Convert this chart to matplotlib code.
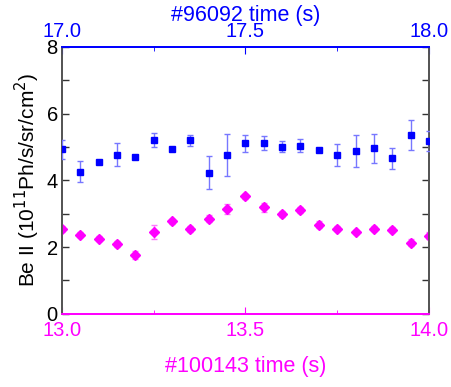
import matplotlib
matplotlib.use('Agg')
from matplotlib import pyplot as plt
from matplotlib.ticker import MultipleLocator

plt.rcParams['font.family'] = ['Liberation Sans', 'DejaVu Sans']

# shot #100143 (bottom axis)
t_100143 = [13.0, 13.05, 13.1, 13.15, 13.2, 13.25, 13.3, 13.35, 13.4, 13.45, 13.5,
            13.55, 13.6, 13.65, 13.7, 13.75, 13.8, 13.85, 13.9, 13.95, 14.0]
be_100143 = [2.54, 2.37, 2.25, 2.09, 1.76, 2.46, 2.77, 2.54, 2.85, 3.13, 3.52,
             3.19, 2.99, 3.11, 2.67, 2.55, 2.45, 2.55, 2.52, 2.13, 2.34]
err_100143 = [0.08, 0.08, 0.07, 0.1, 0.11, 0.21, 0.08, 0.08, 0.1, 0.15, 0.08,
              0.14, 0.08, 0.1, 0.1, 0.07, 0.07, 0.07, 0.08, 0.1, 0.1]

# shot #96092 (top axis)
t_96092 = [17.0, 17.05, 17.1, 17.15, 17.2, 17.25, 17.3, 17.35, 17.4, 17.45, 17.5,
           17.55, 17.6, 17.65, 17.7, 17.75, 17.8, 17.85, 17.9, 17.95, 18.0]
be_96092 = [4.93, 4.26, 4.54, 4.77, 4.70, 5.21, 4.95, 5.20, 4.23, 4.76, 5.11,
            5.12, 5.01, 5.04, 4.92, 4.75, 4.87, 4.96, 4.66, 5.36, 5.19]
err_96092 = [0.29, 0.31, 0.05, 0.35, 0.05, 0.21, 0.05, 0.16, 0.5, 0.62, 0.26,
             0.21, 0.16, 0.19, 0.05, 0.33, 0.48, 0.44, 0.32, 0.45, 0.3]

pink = '#ff00ff'
blue = '#0000ff'
gray = '#555555'

fig = plt.figure(figsize=(4.52, 3.87), dpi=100)
ax = fig.add_axes([0.137, 0.189, 0.812, 0.690])
ax2 = ax.twiny()

ax.errorbar(t_100143, be_100143, yerr=err_100143, fmt='D', color=pink, ms=5.5,
            ecolor='#ff77ff', elinewidth=1, capsize=2, capthick=1, zorder=3)
ax2.errorbar(t_96092, be_96092, yerr=err_96092, fmt='s', color=blue, ms=4.8,
             ecolor='#7777ff', elinewidth=1, capsize=2, capthick=1, zorder=3)

ax.set_xlim(13.0, 14.0)
ax2.set_xlim(17.0, 18.0)
ax.set_ylim(0, 8)

ax.xaxis.set_major_locator(MultipleLocator(0.5))
ax.xaxis.set_minor_locator(MultipleLocator(0.25))
ax2.xaxis.set_major_locator(MultipleLocator(0.5))
ax2.xaxis.set_minor_locator(MultipleLocator(0.25))
ax.yaxis.set_major_locator(MultipleLocator(2))
ax.yaxis.set_minor_locator(MultipleLocator(1))
ax.xaxis.set_major_formatter(lambda v, p: f'{v:.1f}')
ax2.xaxis.set_major_formatter(lambda v, p: f'{v:.1f}')

ax.tick_params(axis='x', which='both', direction='in', colors=pink, labelsize=14.5, pad=5)
ax.tick_params(axis='x', which='major', length=5)
ax.tick_params(axis='x', which='minor', length=3)
ax2.tick_params(axis='x', which='both', direction='in', colors=blue, labelsize=14.5, pad=4)
ax2.tick_params(axis='x', which='major', length=5)
ax2.tick_params(axis='x', which='minor', length=3)
ax.tick_params(axis='y', which='both', direction='in', right=True, length=5,
               color='#333333', labelsize=14.5, width=1, pad=3)

for a in (ax, ax2):
    a.spines['left'].set_color(gray)
    a.spines['right'].set_color(gray)
    a.spines['top'].set_color(blue)
    a.spines['bottom'].set_color(pink)
    for s in a.spines.values():
        s.set_linewidth(1.3)

ax.set_xlabel('#100143 time (s)', color=pink, fontsize=15.5, labelpad=12)
ax2.set_xlabel('#96092 time (s)', color=blue, fontsize=15.5, labelpad=1)
ax.set_ylabel('Be II (10$^{11}$Ph/s/sr/cm$^{2}$)', fontsize=15, labelpad=3)

fig.savefig('out.png', dpi=100)
